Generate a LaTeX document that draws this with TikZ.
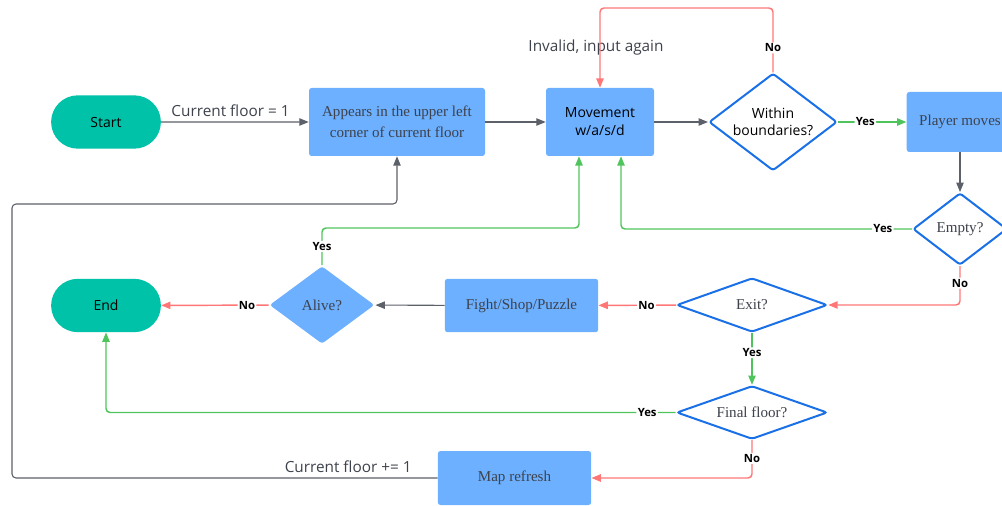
\documentclass[tikz,border=0pt]{standalone}
\usepackage{fontspec}
\setmainfont{Liberation Serif}
\setsansfont{Open Sans}
\usetikzlibrary{shapes.geometric, shapes.misc, arrows.meta, calc}

\definecolor{termteal}{RGB}{0,194,168}
\definecolor{boxblue}{RGB}{108,176,255}
\definecolor{askblue}{RGB}{26,112,230}
\definecolor{yesgreen}{RGB}{80,196,92}
\definecolor{nored}{RGB}{255,118,118}
\definecolor{linegray}{RGB}{92,96,104}
\definecolor{txtgray}{RGB}{62,66,76}

\begin{document}
\begin{tikzpicture}[x=0.75pt, y=-0.75pt,
		every node/.style={align=center},
		term/.style={rounded rectangle, fill=termteal, minimum width=89pt, minimum height=40pt, font=\sffamily\fontsize{10.5}{12}\selectfont},
		box/.style={rectangle, rounded corners=2pt, fill=boxblue, text=txtgray, font=\fontsize{11.3}{16}\selectfont},
		ask/.style={diamond, draw=askblue, line width=1.5pt, fill=white, rounded corners=2pt, inner sep=0pt, text=txtgray, font=\fontsize{11.3}{13}\selectfont},
		lbl/.style={fill=white, inner sep=1pt, font=\sffamily\bfseries\fontsize{8.5}{9}\selectfont},
		edgetxt/.style={text=txtgray, font=\sffamily\fontsize{11.5}{13}\selectfont},
		flow/.style={draw=linegray, line width=0.8pt, rounded corners=3pt, -{Triangle[length=7pt, width=5.5pt]}},
		yes/.style={flow, draw=yesgreen, line width=1.1pt},
		no/.style={flow, draw=nored, line width=1.1pt}
	]
	\useasboundingbox (0,0) rectangle (1002,506);
	\clip (0,0) rectangle (1002,506);

	% terminals
	\node[term] (start) at (106,122) {Start};
	\node[term] (end) at (106,305.5) {End};

	% process boxes
	\node[box, minimum width=132pt, minimum height=51pt] (appears) at (397,122) {Appears in the upper left\\corner of current floor};
	\node[box, minimum width=81pt, minimum height=51pt, text=black, font=\sffamily\fontsize{10.5}{13.5}\selectfont] (move) at (600,122) {Movement\\w/a/s/d};
	\node[box, minimum width=80pt, minimum height=45pt] (player) at (960,122) {Player moves};
	\node[box, minimum width=115pt, minimum height=40pt] (fight) at (521.5,305.5) {Fight/Shop/Puzzle};
	\node[box, minimum width=115pt, minimum height=40.5pt] (map) at (514.5,478) {Map refresh};

	% decisions
	\node[ask, aspect=1.3, minimum width=96pt, minimum height=73pt, text=black, font=\sffamily\fontsize{10.5}{13}\selectfont] (within) at (773,122) {Within\\boundaries?};
	\node[ask, aspect=1.3, minimum width=70.5pt, minimum height=54pt] (empty) at (960,229) {Empty?};
	\node[ask, aspect=2.8, minimum width=113pt, minimum height=40.5pt] (exit) at (752,305) {Exit?};
	\node[ask, aspect=2.8, minimum width=113pt, minimum height=40pt] (final) at (752,412.5) {Final floor?};
	\node[ask, aspect=1.35, draw=none, fill=boxblue, minimum width=79pt, minimum height=58.5pt] (alive) at (322,305) {Alive?};

	\node[edgetxt] (invalid) at (596,48) {Invalid, input again};

	\coordinate (mvL) at ($(move.south)+(-21,0)$);
	\coordinate (mvR) at ($(move.south)+(21,0)$);

	% connectors
	\draw[flow] (start) -- node[edgetxt, above, pos=0.47] (cf1) {Current floor = 1} (appears);
	\draw[flow] (appears) -- (move);
	\draw[flow] (move) -- (within);
	\draw[yes] (within) -- node[lbl, pos=0.4] {Yes} (player);
	\draw[no] (within.north) -- node[lbl, pos=0.38] {No} (within.north |- 0,8) -| (move.north);
	\draw[flow] (player) -- (empty);
	\draw[yes] (empty.west) -- node[lbl, pos=0.1] {Yes} (empty.west -| mvR) -- (mvR);
	\draw[yes] (alive.north) -- node[lbl] {Yes} (alive.north |- 0,228) -| (mvL);
	\draw[no] (empty.south) |- node[lbl, pos=0.22] {No} (exit.east);
	\draw[no] (exit) -- node[lbl, pos=0.38] {No} (fight);
	\draw[flow] (fight) -- (alive);
	\draw[no] (alive) -- node[lbl, pos=0.2] {No} (end);
	\draw[yes] (exit) -- node[lbl, pos=0.38] {Yes} (final);
	\draw[yes] (final.west) -| node[lbl, pos=0.025] {Yes} (end.south);
	\draw[no] (final.south) |- node[lbl, pos=0.24] {No} (map.east);
	\draw[flow] (map.west) -- node[edgetxt, above, pos=0.21] (cf2) {Current floor += 1} (12,478) -- (12,204) -- (397,204) -- (appears.south);
\end{tikzpicture}
\end{document}
